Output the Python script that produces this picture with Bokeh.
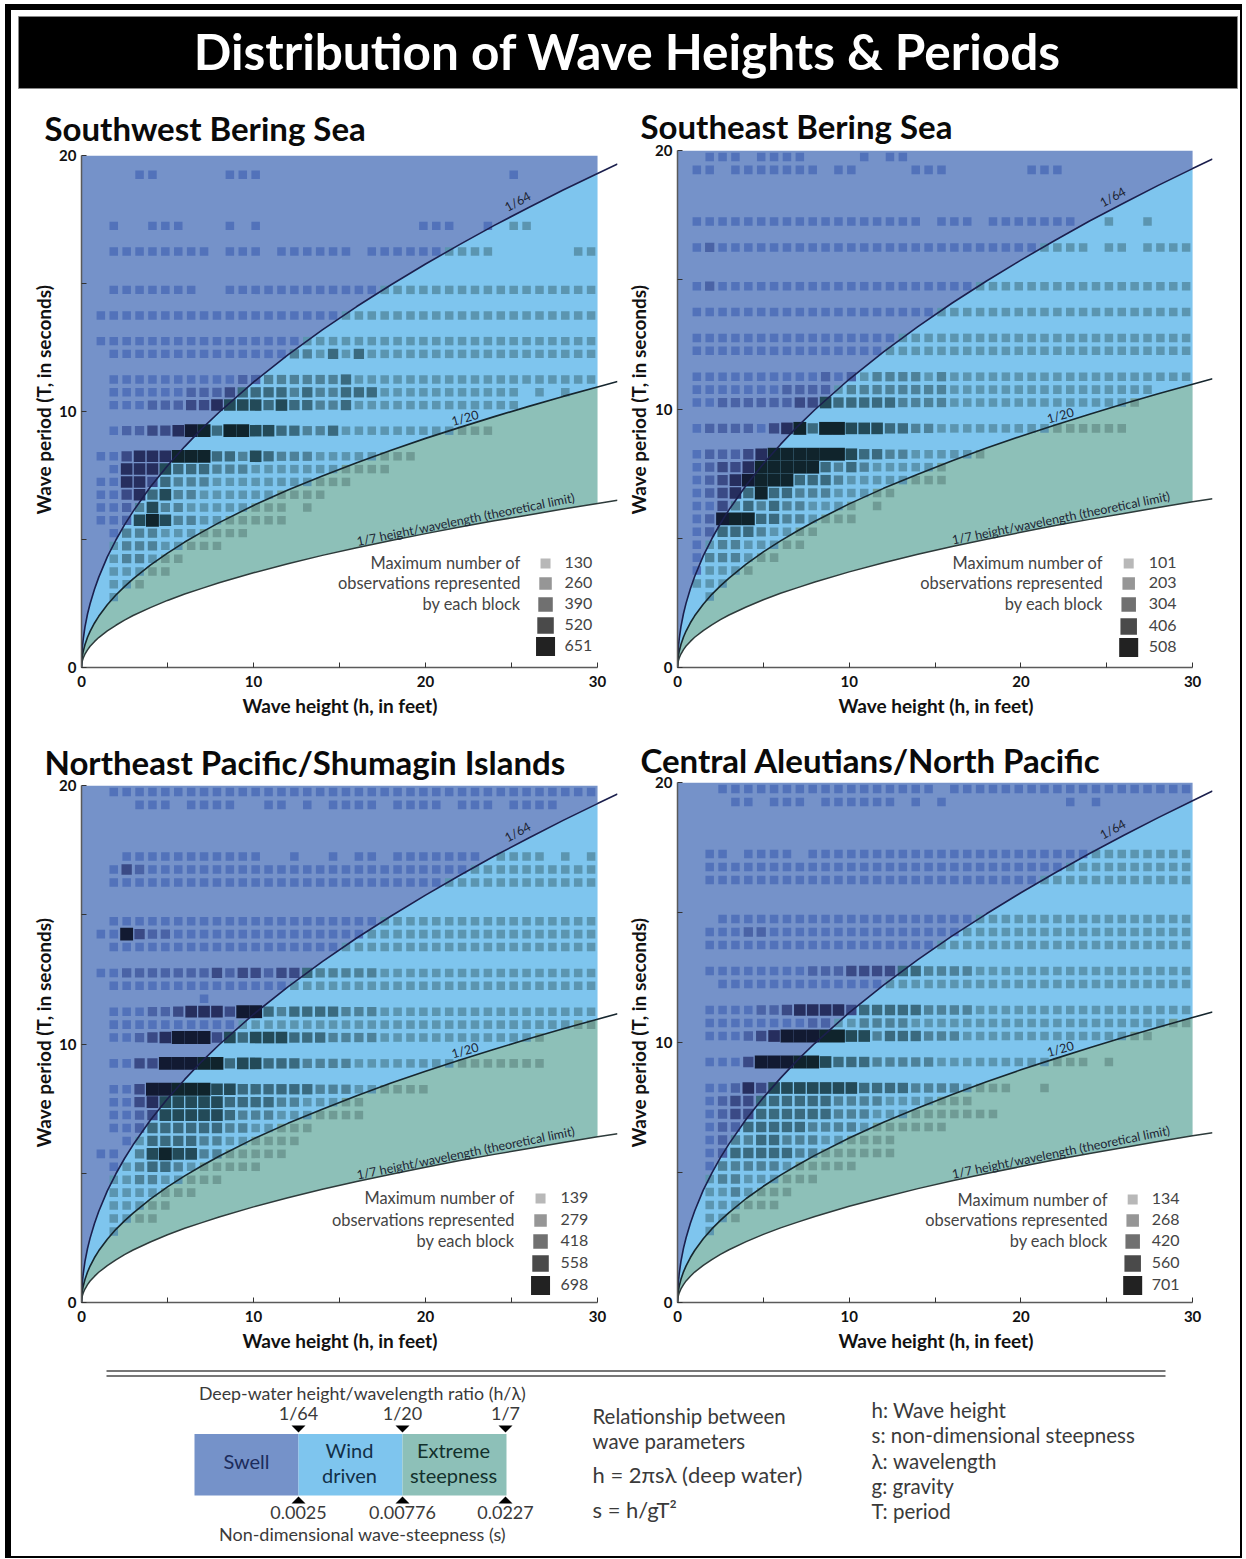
from bokeh.plotting import figure
from bokeh.models import ColumnDataSource, FixedTicker, Range1d, Title
from bokeh.layouts import column, row
from bokeh.core.properties import value
from bokeh.embed import file_html
from bokeh.resources import INLINE
import numpy as np

FONT = "Lato"
main_title = "Distribution of Wave Heights & Periods"

# boundary curves: wave height h and period T for each ratio
curve_h = [0, .02, .05, .1, .2, .35, .5, .75, 1, 1.5, 2, 2.5, 3, 4, 5, 6, 7, 8, 10, 12, 14, 16, 18, 20, 22, 24, 26, 28, 30, 31.16]
curve_t64 = [0, .50, .79, 1.11, 1.58, 2.09, 2.49, 3.05, 3.52, 4.32, 4.98, 5.57, 6.10, 7.05, 7.88, 8.63, 9.33, 9.97, 11.15, 12.21, 13.19, 14.10, 14.95, 15.76, 16.53, 17.27, 17.97, 18.65, 19.30, 19.67]
curve_t20 = [0, .28, .45, .63, .89, 1.18, 1.41, 1.73, 2.00, 2.45, 2.83, 3.16, 3.46, 4.00, 4.47, 4.90, 5.29, 5.66, 6.33, 6.93, 7.48, 8.00, 8.49, 8.95, 9.38, 9.80, 10.20, 10.59, 10.96, 11.17]
curve_t7 = [0, .17, .26, .37, .52, .69, .83, 1.01, 1.17, 1.43, 1.65, 1.85, 2.03, 2.34, 2.62, 2.87, 3.09, 3.31, 3.70, 4.05, 4.38, 4.68, 4.96, 5.23, 5.49, 5.73, 5.96, 6.19, 6.41, 6.53]

# Block rows: period of the row, then one digit per 0.75 ft height bin (0 empty, 1-5 legend class)
sw_t = [19.25, 17.25, 16.25, 14.75, 13.75, 12.75, 12.25, 11.25, 10.75, 10.25, 9.25, 8.25, 7.75, 7.25, 6.75, 6.25, 5.75, 5.25, 4.75, 4.25, 3.75, 3.25, 2.75]
sw_levels = [
    "0000110000" "0111000000" "0000000000" "0001000000",
    "0010011100" "0101000000" "0000001110" "0101100000",
    "0011111111" "0111011111" "1011111111" "1100000011",
    "0011111110" "0111111111" "1111111111" "1111111111",
    "0111111111" "1111111111" "1111111111" "1111111111",
    "0111111111" "1111111111" "1111111111" "1111111111",
    "0011111111" "1111112213" "1311111111" "1111111111",
    "0011111111" "1122222222" "3111111111" "1111111111",
    "0011111122" "2333332322" "3331111111" "1111010100",
    "0011122233" "4444343322" "3111111111" "1111000000",
    "0012233455" "3554433223" "1111111111" "1100000000",
    "0113444555" "3324322211" "1111110000",
    "0014444333" "2221111111" "1111000000",
    "0114433222" "1111111111" "1000000000",
    "0113434221" "1111111110",
    "0112242211" "1111110100",
    "0112454221" "1111110000",
    "0012221111" "1110000000",
    "0012221111" "1000000000",
    "0012211100",
    "0011111000",
    "0011100000",
    "0010000000",
]
se_t = [19.75, 19.25, 17.25, 16.25, 14.75, 13.75, 12.75, 12.25, 11.25, 10.75, 10.25, 9.25, 8.25, 7.75, 7.25, 6.75, 6.25, 5.75, 5.25, 4.75, 4.25, 3.75, 3.25, 2.75]
se_levels = [
    "0011101111" "0000101100",
    "0110111111" "1011000011" "1000000111",
    "0111111111" "1111111110" "1110111111" "1001001000",
    "0121111111" "1111111111" "1111111111" "1101101111",
    "0121111111" "1111111111" "1111111111" "1111111111",
    "0111111111" "1111111111" "1111111111" "1111111111",
    "0111111111" "1111111111" "1111111111" "1111111111",
    "0111111111" "1111111111" "1111111111" "1111111111",
    "0111111111" "1212122221" "2111111111" "1111111111",
    "0111111122" "2212222222" "2111111111" "1111111000",
    "0112222223" "3433333222" "2111111111" "1111110000",
    "0122221345" "3554443322" "1111111111" "1111100000",
    "0122234555" "5554332211" "1111000000",
    "0123345555" "5323211111" "1000000000",
    "0123455553" "3321111111" "1000000000",
    "0123435332" "2211111000",
    "0113232322" "1111010000",
    "0125553322" "1111000000",
    "0123332111" "1000000000",
    "0112211111",
    "0122211100",
    "0111110000",
    "0111000000",
    "0010000000",
]
ne_t = [19.75, 19.25, 17.25, 16.75, 16.25, 14.75, 14.25, 13.75, 12.75, 12.25, 11.75, 11.25, 10.75, 10.25, 9.25, 8.25, 7.75, 7.25, 6.75, 6.25, 5.75, 5.25, 4.75, 4.25, 3.75, 3.25, 2.75]
ne_levels = [
    "0011111111" "1111111111" "1111111111" "1111111111",
    "0000111011" "1100110101" "1110111101" "1101111000",
    "0001111111" "1111001001" "0110111111" "1011110101",
    "0013211111" "1111111111" "1111111111" "1111111111",
    "0011111111" "1111111111" "1111111111" "1111111111",
    "0011111111" "1111111111" "1111111111" "1111111111",
    "0115322111" "1111111111" "1111111111" "1111111111",
    "0011111111" "1111111111" "1111111111" "1111111111",
    "0112222222" "3233233322" "2221111111" "1111111111",
    "0011111111" "1111111111" "1111111111" "1111111111",
    "0000000001",
    "0011122344" "4355323333" "2221111111" "1111111111",
    "0011111111" "1111111111" "1111111111" "1111111111",
    "0011234555" "3434443332" "2221111111" "1111110000",
    "0011335555" "5344333222" "2111111111" "1111110000",
    "0011355555" "4433333322" "2111111000",
    "0011344444" "4333322111" "1100000000",
    "0011234444" "4322211111" "1100000000",
    "0011233333" "3221111100",
    "0001133332" "2111111000",
    "0110245442" "2111110000",
    "0011233211" "1111000000",
    "0011221111" "1000000000",
    "0011111110",
    "0011111000",
    "0011110000",
    "0010000000",
]
ca_t = [19.75, 19.25, 17.25, 16.75, 16.25, 14.75, 14.25, 13.75, 12.75, 12.25, 11.25, 10.75, 10.25, 9.25, 8.25, 7.75, 7.25, 6.75, 6.25, 5.75, 5.25, 4.75, 4.25, 3.75, 3.25, 2.75]
ca_levels = [
    "0001111111" "1111111111" "0111111111" "1111111111",
    "0000110111" "0111111010" "1000000000" "1010000000",
    "0011011110" "1111111111" "1111111111" "1111111111",
    "0011111111" "1111111111" "1111111111" "1111111111",
    "0011111111" "1111111111" "1111111111" "1111111111",
    "0001111111" "1111111111" "1111111111" "1111111111",
    "0011122111" "1111111111" "1111111111" "1111111111",
    "0011111111" "1111111111" "1111111111" "1111111111",
    "0011111111" "2223333332" "2221111111" "1111111111",
    "0001111111" "1111111111" "1111111111" "1111111111",
    "0011112234" "4443333332" "2221111111" "1111111111",
    "0011111111" "2211222211" "1111111111" "1111111111",
    "0011123455" "5554423332" "2211111111" "1111111000",
    "0011135555" "5433322222" "1111111111" "1101000000",
    "0011243444" "4444333322" "2211110010",
    "0012333333" "3322221111" "1110000000",
    "0012333333" "3322211111" "1111100000",
    "0012233333" "2222111111" "1000000000",
    "0012223322" "2111111000",
    "0012333332" "2111111000",
    "0012222211" "1111000000",
    "0012211111" "1000000000",
    "0011211110",
    "0011111100",
    "0011100000",
    "0010000000",
]

sw_legend = ["130", "260", "390", "520", "651"]
se_legend = ["101", "203", "304", "406", "508"]
ne_legend = ["139", "279", "418", "558", "698"]
ca_legend = ["134", "268", "420", "560", "701"]
legend_note = ["Maximum number of", "observations represented", "by each block"]

x_ticks = [0, 10, 20, 30]
x_minor = [5, 15, 25]
y_ticks = [0, 10, 20]
y_minor = [5, 15]

SWELL, WIND, STEEP = "#7592c9", "#7ec5ee", "#8dc0b8"
block_frac = [0, .66, .72, .80, .90, 1.0]
swell_col = ["", "#5272ba", "#4a63a6", "#3a4a86", "#262e5e", "#121a32"]
wind_col = ["", "#5b95b0", "#4d8199", "#3a6a7f", "#234a58", "#10242c"]
steep_col = ["", "#6f9b95", "#5c8884", "#4a7470", "#2c5050", "#10242c"]
legend_col = ["#b8b8b8", "#969696", "#707070", "#4a4a4a", "#222222"]
legend_size = [10, 12.5, 14.5, 16.5, 19]


def panel(title, ts, levels, legend, width, border_left, top, bottom, height, page_left, page_top, leg):
    xmax = curve_h[-1]
    p = figure(width=width, height=height, x_range=Range1d(0, xmax), y_range=Range1d(0, 20),
               output_backend="svg", toolbar_location=None, min_border_left=border_left,
               min_border_right=width - border_left - 536, min_border_top=top, min_border_bottom=bottom,
               background_fill_color=None, border_fill_color=None, outline_line_color=None, frame_align=False,
               title=title)
    p.grid.visible = False
    frame_left = page_left + border_left
    frame_bottom = page_top + height - bottom
    scale = (height - top - bottom) / 20

    def to_h(px):
        return (px - frame_left) / 17.2

    def to_t(py):
        return (frame_bottom - py) / scale

    p.title.text_font = FONT
    p.title.text_font_size = "33px"
    p.title.text_font_style = "bold"
    p.title.text_color = "#0a0a0a"
    p.title.align = "left"
    p.title.offset = -37
    p.title.standoff = leg["title_standoff"]

    h = np.array(curve_h[:-1])
    t64, t20, t7 = np.array(curve_t64[:-1]), np.array(curve_t20[:-1]), np.array(curve_t7[:-1])
    p.varea(h, t64, np.full_like(h, 20.0), fill_color=SWELL)
    p.varea(h, t20, t64, fill_color=WIND)
    p.varea(h, t7, t20, fill_color=STEEP)

    xs, ys, ws, hs, cs = [], [], [], [], []
    for t, s in zip(ts, levels):
        for k, ch in enumerate(s):
            lv = int(ch)
            if lv == 0:
                continue
            x = .375 + .75 * k
            xs.append(x)
            ys.append(t)
            ws.append(.75 * block_frac[lv])
            hs.append(.5 * block_frac[lv])
            if t > np.interp(x, curve_h, curve_t64):
                cs.append(swell_col[lv])
            elif t > np.interp(x, curve_h, curve_t20):
                cs.append(wind_col[lv])
            else:
                cs.append(steep_col[lv])
    p.rect(x="x", y="y", width="w", height="h", fill_color="c", line_color=None,
           source=ColumnDataSource(dict(x=xs, y=ys, w=ws, h=hs, c=cs)))

    p.line(curve_h, curve_t64, line_color="#1b1f4d", line_width=1.6)
    p.line(curve_h, curve_t20, line_color="#16262e", line_width=1.6)
    p.line(curve_h, curve_t7, line_color="#2d3a3a", line_width=1.5)

    p.text([25.35, 22.3, 22.33], [18.2, 9.75, 5.78],
           text=["1/64", "1/20", "1/7 height/wavelength (theoretical limit)"],
           angle=[.5, .27, .2], text_align="center", text_baseline="middle",
           text_font=value(FONT), text_font_size=value("12.5px"), text_color="#1c2433")

    p.text([to_h(leg["note_x"])] * 3, [to_t(y - 1) for y in leg["note_y"]], text=legend_note, text_align="right",
           text_baseline="middle", text_font=value(FONT), text_font_size=value("16.4px"), text_color="#444444")
    p.scatter([to_h(leg["box_x"])] * 5, [to_t(y) for y in leg["box_y"]], marker="square", size=legend_size,
              fill_color=legend_col, line_color=None)
    p.text([to_h(leg["num_x"])] * 5, [to_t(y - 1) for y in leg["box_y"]], text=legend, text_align="left",
           text_baseline="middle", text_font=value(FONT), text_font_size=value("16px"), text_color="#444444")

    for ax, ticks, minor in ((p.xaxis[0], x_ticks, x_minor), (p.yaxis[0], y_ticks, y_minor)):
        ax.ticker = FixedTicker(ticks=ticks, minor_ticks=minor)
        ax.major_label_text_font = FONT
        ax.major_label_text_font_size = "15px"
        ax.major_label_text_font_style = "bold"
        ax.major_label_text_color = "#111111"
        ax.axis_line_color = "#5a5a5a"
        ax.axis_line_width = 1.5
        ax.major_tick_line_color = "#333333"
        ax.minor_tick_line_color = "#333333"
        ax.major_tick_in, ax.major_tick_out = 5, 0
        ax.minor_tick_in, ax.minor_tick_out = 5, 0
    p.xaxis[0].bounds = (0, 30)
    p.yaxis[0].bounds = (0, 20)
    p.xaxis[0].major_label_standoff = 8
    p.yaxis[0].major_label_standoff = 5

    # axis titles: placed as side titles so they can start where the reference's do
    p.add_layout(Title(text="Wave height (h, in feet)", align="left", offset=161, standoff=4, text_font=FONT,
                       text_font_size="19px", text_font_style="bold", text_color="#111111"), "below")
    p.add_layout(Title(text="Wave period (T, in seconds)", align="left", offset=leg["ylab_offset"],
                       standoff=leg["ylab_standoff"], text_font=FONT, text_font_size="19px",
                       text_font_style="bold", text_color="#111111"), "left")
    return p


p1 = panel("Southwest Bering Sea", sw_t, sw_levels, sw_legend, 622, 81, 61, 63, 636, 0, 94,
           dict(note_x=520, box_x=545, num_x=564, note_y=[563, 583, 604], box_y=[563, 583, 604, 625, 646],
                title_standoff=15, ylab_offset=153, ylab_standoff=3))
p2 = panel("Southeast Bering Sea", se_t, se_levels, se_legend, 624, 54, 56, 63, 636, 622, 94,
           dict(note_x=1102, box_x=1128, num_x=1148, note_y=[563, 583, 604], box_y=[563, 583, 604, 626, 647],
                title_standoff=9, ylab_offset=153, ylab_standoff=5))
p3 = panel("Northeast Pacific/Shumagin Islands", ne_t, ne_levels, ne_legend, 622, 81, 55, 58, 630, 0, 730,
           dict(note_x=514, box_x=540, num_x=560, note_y=[1198, 1220, 1241], box_y=[1198, 1220, 1241, 1263, 1285],
                title_standoff=8, ylab_offset=155, ylab_standoff=3))
p4 = panel("Central Aleutians/North Pacific", ca_t, ca_levels, ca_legend, 624, 54, 52, 58, 630, 622, 730,
           dict(note_x=1107, box_x=1132, num_x=1151, note_y=[1200, 1220, 1241], box_y=[1199, 1220, 1241, 1263, 1285],
                title_standoff=5, ylab_offset=155, ylab_standoff=5))

# header
head = figure(width=1246, height=94, x_range=Range1d(0, 1246), y_range=Range1d(94, 0), output_backend="svg",
              toolbar_location=None, min_border=0, background_fill_color=None, border_fill_color=None,
              outline_line_color=None)
head.axis.visible = False
head.grid.visible = False
head.quad(left=[18], right=[1237], top=[16], bottom=[88], fill_color="black", line_color="#888888", line_width=1)
head.text([627], [50], text=[main_title], text_align="center", text_baseline="middle", text_font=value(FONT),
          text_font_style="bold", text_font_size=value("49.5px"), text_color="white")

# footer
scale_labels = ["Swell", "Wind", "driven", "Extreme", "steepness"]
ratio_labels = ["1/64", "1/20", "1/7"]
steep_labels = ["0.0025", "0.00776", "0.0227"]
scale_title = "Deep-water height/wavelength ratio (h/\u03bb)"
steep_title = "Non-dimensional wave-steepness (s)"
relation = ["Relationship between", "wave parameters"]
formulas = ["h = 2\u03c0s\u03bb (deep water)", "s = h/gT\u00b2"]
glossary = ["h: Wave height", "s: non-dimensional steepness", "\u03bb: wavelength", "g: gravity", "T: period"]

foot = figure(width=1246, height=199, x_range=Range1d(0, 1246), y_range=Range1d(1559, 1360), output_backend="svg",
              toolbar_location=None, min_border=0, background_fill_color=None, border_fill_color=None,
              outline_line_color=None)
foot.axis.visible = False
foot.grid.visible = False
foot.multi_line([[106, 1165], [106, 1165]], [[1370.5, 1370.5], [1375.5, 1375.5]], line_color="#4a4a4a", line_width=1.6)
foot.quad(left=[194, 298, 402], right=[298, 402, 506], top=[1433.5] * 3, bottom=[1495] * 3,
          fill_color=[SWELL, WIND, STEEP], line_color=None)
tx = [298, 402, 505]
foot.patches([[x - 7, x + 7, x] for x in tx], [[1425, 1425, 1432]] * 3, fill_color="black", line_color=None)
foot.patches([[x - 7, x + 7, x] for x in tx], [[1503, 1503, 1496]] * 3, fill_color="black", line_color=None)


def ftext(x, y, t, size, color="#3a3a3a", align="center"):
    foot.text(x, y, text=t, text_align=align, text_baseline="middle", text_font=value(FONT),
              text_font_size=value(size), text_color=color)


ftext([362], [1392], [scale_title], "17.8px")
ftext(tx, [1412] * 3, ratio_labels, "18px")
ftext(tx, [1512] * 3, steep_labels, "18px")
ftext([362], [1533], [steep_title], "18px")
ftext([246], [1460], scale_labels[:1], "20px", "#1c2c5c")
ftext([349, 349], [1449, 1474], scale_labels[1:3], "20px", "#123048")
ftext([453, 453], [1449, 1474], scale_labels[3:], "20px", "#12302c")
ftext([592] * 2, [1415, 1440], relation, "20.4px", align="left")
ftext([592] * 2, [1474, 1509], formulas, "22px", align="left")
ftext([871] * 5, [1409, 1434, 1460, 1485, 1510], glossary, "20.5px", align="left")

bands = [("5px 4px", "1236px 6px"), ("5px 4px", "6px 1553px"), ("1240px 4px", "2px 1553px"), ("5px 1556px", "1237px 2px")]
bg = ", ".join(f"linear-gradient(#000,#000) {pos} / {size} no-repeat" for pos, size in bands)
page = column(head, row(p1, p2, spacing=0), row(p3, p4, spacing=0), foot, spacing=0,
              styles={"position": "absolute", "left": "0px", "top": "0px", "width": "1246px", "height": "1559px",
                      "background": bg})
open("out.html", "w").write(file_html(page, INLINE))
